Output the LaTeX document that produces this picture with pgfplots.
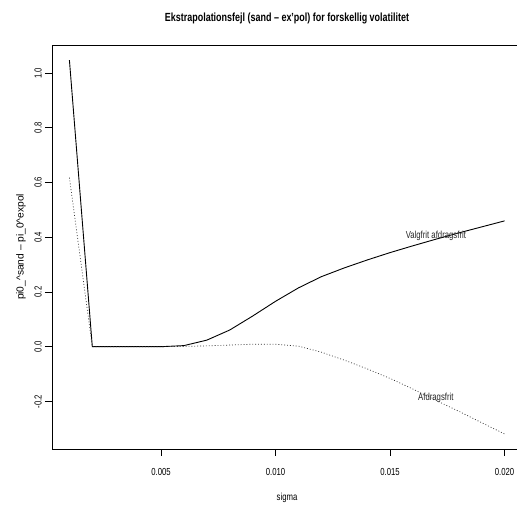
\documentclass[border=0pt]{standalone}
\usepackage{fontspec}
\setmainfont{Liberation Sans}[FakeStretch=0.76]
\newfontfamily\widefont{Liberation Sans}
\usepackage{pgfplots}
\pgfplotsset{compat=1.18}
\begin{document}
\begin{tikzpicture}
\begin{axis}[
  name=ax,
  scale only axis, width=470pt, height=404pt,
  xmin=0.00024, xmax=0.02076, ymin=-0.374, ymax=1.103,
  axis line style={line width=0.8pt},
  tick align=outside, major tick length=7pt,
  tick style={line width=0.8pt, black},
  xtick={0.005,0.010,0.015,0.020}, xticklabels={0.005,0.010,0.015,0.020},
  ytick={-0.2,0,0.2,0.4,0.6,0.8,1.0}, yticklabels={-0.2,0.0,0.2,0.4,0.6,0.8,1.0},
  scaled x ticks=false, scaled y ticks=false,
  xtick pos=bottom, ytick pos=left,
  xticklabel style={font=\fontsize{10.2}{11}\selectfont, anchor=center},
  xticklabel shift=16pt,
  yticklabel style={font=\fontsize{10.2}{11}\selectfont, anchor=center, rotate=90},
  yticklabel shift=7pt,
  title={\bfseries Ekstrapolationsfejl (sand – ex'pol) for forskellig volatilitet},
  title style={font=\fontsize{11.8}{12}\selectfont, at={(0.5,1)}, anchor=center, yshift=21pt},
  xlabel={sigma},
  xlabel style={font=\fontsize{10.2}{11}\selectfont, at={(axis description cs:0.5,-0.1213)}, anchor=center},
  ylabel={\widefont pi0\_\textasciicircum sand – pi\_0\textasciicircum expol},
  ylabel style={font=\fontsize{10.2}{11}\selectfont, at={(axis description cs:-0.066,0.5)}, anchor=center},
]
\addplot[black, line width=0.9pt] coordinates {
(0.001,1.048) (0.002,0) (0.003,0) (0.004,0) (0.005,0) (0.006,0.004)
(0.007,0.024) (0.008,0.061) (0.009,0.112) (0.010,0.166) (0.011,0.215)
(0.012,0.256) (0.013,0.288) (0.014,0.317) (0.015,0.344) (0.016,0.369)
(0.017,0.393) (0.018,0.416) (0.019,0.438) (0.020,0.460)};
\addplot[black!80, line width=0.7pt, dash pattern=on 0.9pt off 2pt] coordinates {
(0.001,0.618) (0.002,0) (0.003,0) (0.004,0) (0.005,0) (0.006,0.001)
(0.007,0.003) (0.008,0.006) (0.009,0.009) (0.010,0.009) (0.011,0.002)
(0.012,-0.020) (0.013,-0.049) (0.014,-0.081) (0.015,-0.116) (0.016,-0.155)
(0.017,-0.196) (0.018,-0.236) (0.019,-0.278) (0.020,-0.319)};
\node[font=\fontsize{10.2}{11}\selectfont, text=black!85] at (axis cs:0.017,0.404) {Valgfrit afdragsfrit};
\node[font=\fontsize{10.2}{11}\selectfont, text=black!85] at (axis cs:0.017,-0.187) {Afdragsfrit};
\end{axis}
\pgfresetboundingbox
\path[use as bounding box] ([shift={(-52pt,-56pt)}]ax.south west) rectangle ([shift={(465pt,449pt)}]ax.south west);
\end{tikzpicture}
\end{document}
